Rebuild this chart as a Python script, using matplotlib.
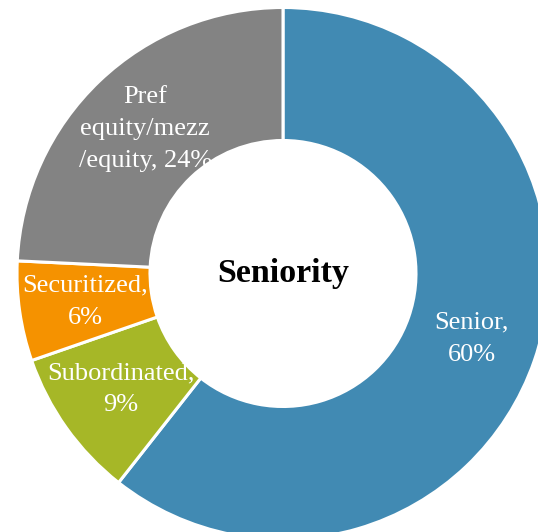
import matplotlib
matplotlib.use("Agg")
import matplotlib.pyplot as plt

categories = ["Senior", "Subordinated", "Securitized", "Pref\nequity/mezz\n/equity"]
values = [60, 9, 6, 24]
colors = ["#418AB3", "#A6B727", "#F59200", "#838383"]
title = "Seniority"

labels = [f"{c}, {v}%" if "\n" in c else f"{c},\n{v}%" for c, v in zip(categories, values)]

fig = plt.figure(figsize=(5.38, 5.32), dpi=100)
ax = fig.add_axes([17 / 538, -7.5 / 532, 532 / 538, 532 / 532])

wedges, texts = ax.pie(
    values,
    labels=labels,
    colors=colors,
    startangle=90,
    counterclock=False,
    radius=1.0,
    labeldistance=0.75,
    wedgeprops=dict(width=0.5, edgecolor="white", linewidth=2.2),
    textprops=dict(color="white", fontsize=19, family="Liberation Serif",
                   linespacing=1.6),
)
for t in texts:
    t.set_horizontalalignment("center")
    t.set_verticalalignment("center")
    t.set_multialignment("center")

ax.text(0, 0, title, ha="center", va="center", fontsize=24.5,
        fontweight="bold", family="Liberation Serif", color="black")

ax.set_xlim(-1, 1)
ax.set_ylim(-1, 1)
ax.set_aspect("equal")
ax.axis("off")

fig.savefig("out.png", dpi=100, facecolor="white")
